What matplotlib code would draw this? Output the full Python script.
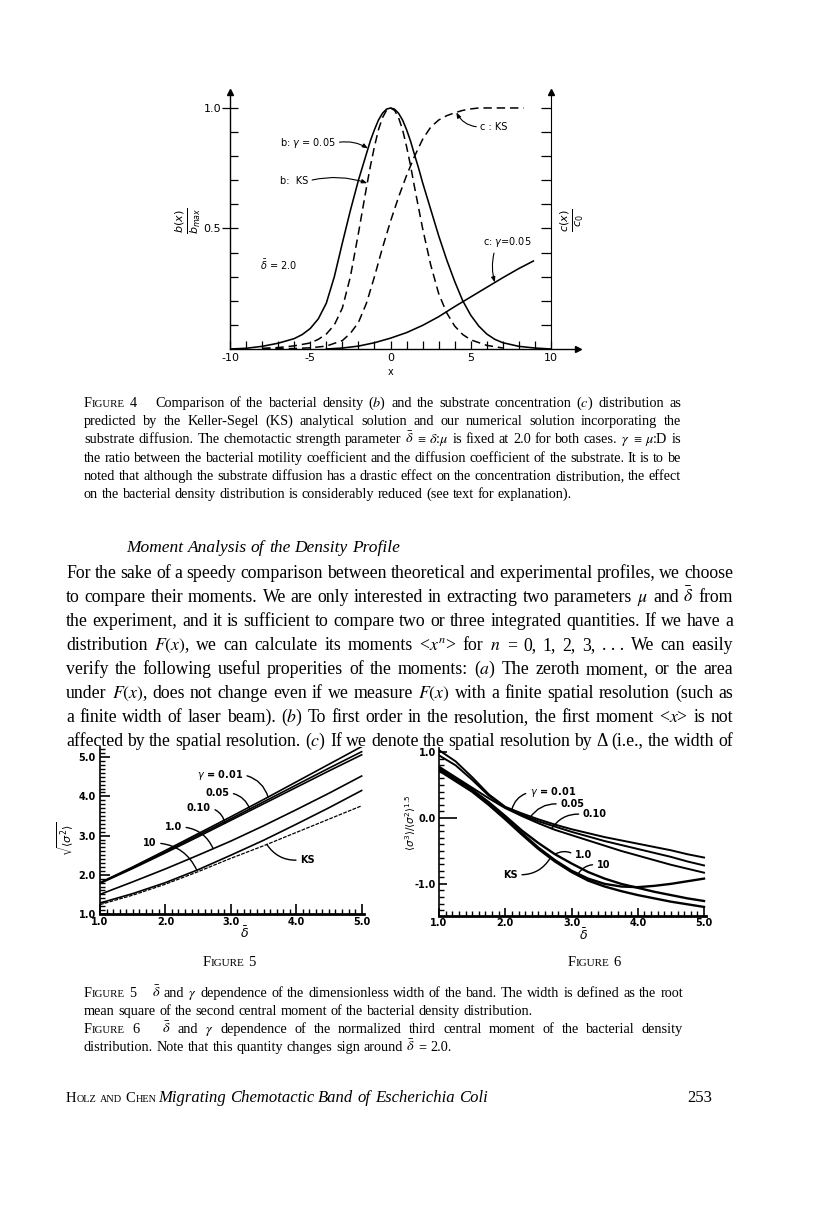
import numpy as np
import matplotlib
matplotlib.use('Agg')
import matplotlib.pyplot as plt
from matplotlib.text import Text

W, H = 816, 1221
SERIF = 'Liberation Serif'
SANS = 'DejaVu Sans'

# ---------------- Figure 4 data ----------------
x_bg = [-10, -9, -8, -7, -6, -5.5, -5, -4.5, -4, -3.5, -3, -2.5, -2, -1.75, -1.5, -1.25, -1, -0.75, -0.5, -0.25, 0,
        0.25, 0.5, 0.75, 1, 1.25, 1.5, 1.75, 2, 2.5, 3, 3.5, 4, 4.5, 5, 5.5, 6, 6.5, 7, 8, 9, 10]
b_gamma = [0.0, 0.003, 0.011, 0.024, 0.043, 0.06, 0.085, 0.125, 0.19, 0.3, 0.44, 0.575, 0.7, 0.755, 0.81, 0.865,
           0.91, 0.95, 0.978, 0.995, 1.0,
           0.995, 0.978, 0.95, 0.91, 0.862, 0.805, 0.75, 0.69, 0.58, 0.47, 0.37, 0.28, 0.2, 0.14, 0.095, 0.062,
           0.04, 0.026, 0.011, 0.004, 0.0]
x_bks = [-8, -7, -6, -5, -4.5, -4, -3.5, -3, -2.5, -2, -1.75, -1.5, -1.25, -1, -0.75, -0.5, -0.25, 0,
         0.25, 0.5, 0.75, 1, 1.25, 1.5, 1.75, 2, 2.5, 3, 3.5, 4, 4.5, 5, 6, 7]
b_ks = [0.003, 0.006, 0.013, 0.025, 0.04, 0.062, 0.1, 0.17, 0.3, 0.48, 0.575, 0.67, 0.76, 0.84, 0.91, 0.96, 0.99, 1.0,
        0.99, 0.96, 0.91, 0.84, 0.76, 0.67, 0.585, 0.5, 0.35, 0.23, 0.15, 0.095, 0.06, 0.038, 0.015, 0.004]
x_cks = [-8, -6, -5, -4, -3, -2.5, -2, -1.5, -1, -0.5, 0, 0.5, 1, 1.5, 2, 2.5, 3, 3.5, 4, 4.5, 5, 5.5, 6, 7, 8.3]
c_ks = [0.0, 0.002, 0.005, 0.012, 0.035, 0.065, 0.11, 0.19, 0.3, 0.42, 0.53, 0.63, 0.72, 0.8, 0.87,
        0.92, 0.95, 0.968, 0.98, 0.99, 0.996, 1.0, 1.0, 1.0, 1.0]
x_cg = [-4, -3, -2, -1, 0, 1, 2, 3, 4, 5, 6, 7, 8, 8.9]
c_gamma = [0.0, 0.004, 0.012, 0.026, 0.045, 0.068, 0.098, 0.134, 0.176, 0.216, 0.256, 0.296, 0.334, 0.365]

# ---------------- Figure 5 data ----------------
d5 = [1.0, 1.5, 2.0, 2.5, 3.0, 3.5, 4.0, 4.5, 5.0]
w_001 = [1.80, 2.20, 2.62, 3.05, 3.48, 3.92, 4.37, 4.82, 5.27]
w_005 = [1.79, 2.18, 2.59, 3.01, 3.43, 3.86, 4.29, 4.72, 5.14]
w_010 = [1.78, 2.16, 2.56, 2.97, 3.39, 3.81, 4.23, 4.65, 5.06]
w_1 = [1.50, 1.82, 2.15, 2.50, 2.86, 3.25, 3.66, 4.08, 4.52]
w_10 = [1.28, 1.52, 1.80, 2.13, 2.50, 2.88, 3.29, 3.71, 4.15]
w_ks = [1.24, 1.48, 1.76, 2.08, 2.42, 2.74, 3.08, 3.42, 3.76]

# ---------------- Figure 6 data ----------------
d6 = [1.0, 1.25, 1.5, 1.75, 2.0, 2.25, 2.5, 2.75, 3.0, 3.25, 3.5, 3.75, 4.0, 4.25, 4.5, 4.75, 5.0]
s_001 = [1.03, 0.86, 0.62, 0.36, 0.17, 0.07, -0.02, -0.10, -0.17, -0.23, -0.29, -0.34, -0.39, -0.44, -0.49, -0.55, -0.60]
s_005 = [0.95, 0.80, 0.58, 0.34, 0.16, 0.05, -0.05, -0.13, -0.21, -0.28, -0.35, -0.41, -0.47, -0.53, -0.59, -0.66, -0.72]
s_010 = [0.78, 0.62, 0.46, 0.30, 0.15, 0.03, -0.08, -0.18, -0.26, -0.34, -0.42, -0.50, -0.57, -0.64, -0.71, -0.77, -0.83]
s_1 = [0.76, 0.60, 0.43, 0.24, 0.03, -0.19, -0.38, -0.55, -0.69, -0.82, -0.92, -1.00, -1.06, -1.12, -1.17, -1.22, -1.26]
s_10 = [0.74, 0.58, 0.41, 0.21, 0.0, -0.23, -0.45, -0.64, -0.80, -0.92, -1.00, -1.04, -1.05, -1.03, -1.00, -0.96, -0.92]
s_ks = [0.72, 0.56, 0.40, 0.20, -0.02, -0.25, -0.47, -0.66, -0.82, -0.95, -1.04, -1.11, -1.17, -1.22, -1.27, -1.31, -1.35]

# ---------------- page text ----------------
cap4 = [
    "^Figure 4 ~ Comparison of the bacterial density ($b$) and the substrate concentration ($c$) distribution as",
    "predicted by the Keller-Segel (KS) analytical solution and our numerical solution incorporating the",
    "substrate diffusion. The chemotactic strength parameter $\\bar{\\delta}$ \u2261 $\\delta$:$\\mu$ is fixed at 2.0 for both cases. $\\gamma$ \u2261 $\\mu$:D is",
    "the ratio between the bacterial motility coefficient and the diffusion coefficient of the substrate. It is to be",
    "noted that although the substrate diffusion has a drastic effect on the concentration distribution, the effect",
    "on the bacterial density distribution is considerably reduced (see text for explanation).",
]
heading = "Moment Analysis of the Density Profile"
body = [
    "For the sake of a speedy comparison between theoretical and experimental profiles, we choose",
    "to compare their moments. We are only interested in extracting two parameters $\\mu$ and $\\bar{\\delta}$ from",
    "the experiment, and it is sufficient to compare two or three integrated quantities. If we have a",
    "distribution $F(x)$, we can calculate its moments <$x^n$> for $n$ = 0, 1, 2, 3, .\u00a0.\u00a0. We can easily",
    "verify the following useful properities of the moments: ($a$) The zeroth moment, or the area",
    "under $F(x)$, does not change even if we measure $F(x)$ with a finite spatial resolution (such as",
    "a finite width of laser beam). ($b$) To first order in the resolution, the first moment <$x$> is not",
    "affected by the spatial resolution. ($c$) If we denote the spatial resolution by \u0394 (i.e., the width of",
]
cap56 = [
    "^Figure 5 ~ $\\bar{\\delta}$ and $\\gamma$ dependence of the dimensionless width of the band. The width is defined as the root",
    "mean square of the second central moment of the bacterial density distribution.",
    "^Figure 6 ~ $\\bar{\\delta}$ and $\\gamma$ dependence of the normalized third central moment of the bacterial density",
    "distribution. Note that this quantity changes sign around $\\bar{\\delta}$ = 2.0.",
]

fig = plt.figure(figsize=(W / 100, H / 100), dpi=100)
fig.patch.set_facecolor('white')
R = fig.canvas.get_renderer()


def axes_px(l, t, r, b):
    return fig.add_axes([l / W, 1 - b / H, (r - l) / W, (b - t) / H])


def word_parts(word, style, sc):
    # '^' = small capitals, '_' = italic, '~' = extra space
    if word == '~':
        return None
    if word.startswith('_'):
        style, word = 'italic', word[1:]
    if word.startswith('^'):
        parts = []
        for ch in word[1:]:
            f = 1.0 if (ch.isupper() or ch.isdigit()) else sc
            if parts and parts[-1][1] == f:
                parts[-1][0] += ch.upper()
            else:
                parts.append([ch.upper(), f, style])
        return parts
    return [[word, 1.0, style]]


def measure(s, size, style):
    t = Text(0, 0, s, fontsize=size, family=SERIF, style=style, math_fontfamily='stix')
    t.set_figure(fig)
    return t.get_window_extent(renderer=R).width


def word_width(parts, size):
    if parts is None:
        return size * 100 / 72 * 0.55
    return sum(measure(p, size * f, st) for p, f, st in parts)


def fit_size(lines, x0, x1, size, style='normal', sc=0.76):
    # one font size for a whole paragraph so that every line fits its measure
    best = size
    for s in lines:
        items = [word_parts(w, style, sc) for w in s.split(' ')]
        total = sum(word_width(p, size) for p in items)
        need = total + (len(items) - 1) * 0.2 * size * 100 / 72
        best = min(best, size * (x1 - x0) / need)
    return best


def text_line(y, x0, x1, s, size, just=True, style='normal', align='left', sc=0.76):
    items = [word_parts(w, style, sc) for w in s.split(' ')]
    widths = [word_width(p, size) for p in items]
    total = sum(widths)
    em = size * 100 / 72
    gap = (x1 - x0 - total) / (len(items) - 1) if (just and len(items) > 1) else 0.25 * em
    full = total + gap * (len(items) - 1)
    x = x0 if align == 'left' else (x0 - full / 2 if align == 'center' else x0 - full)
    for parts, w in zip(items, widths):
        if parts is not None:
            xx = x
            for p, f, st in parts:
                fig.text(xx / W, 1 - y / H, p, fontsize=size * f, family=SERIF, style=st,
                         math_fontfamily='stix')
                xx += measure(p, size * f, st)
        x += w + gap


# ---------------- Figure 4 ----------------
ax = axes_px(230, 92.3, 578, 349)
ax.set_xlim(-10, 11.68)
ax.set_ylim(0, 1.065)
ax.patch.set_visible(False)
ax.spines['top'].set_visible(False)
ax.spines['right'].set_visible(False)
for s in ['left', 'bottom']:
    ax.spines[s].set_linewidth(1.0)
dash = (0, (5.5, 3.2))
ax.plot(x_bg, b_gamma, color='k', lw=1.15)
ax.plot(x_bks, b_ks, color='k', lw=1.1, ls=dash)
ax.plot(x_cks, c_ks, color='k', lw=1.1, ls=dash)
ax.plot(x_cg, c_gamma, color='k', lw=1.15)
ax.set_xticks([-10, -5, 0, 5, 10])
ax.set_xticklabels(['-10', '-5', '0', '5', '10'], family=SANS)
ax.set_xticks(np.arange(-10, 11), minor=True)
ax.tick_params(axis='x', which='both', direction='in', length=6, width=0.9, labelsize=8, pad=3)
ax.set_yticks([0.5, 1.0])
ax.set_yticklabels(['0.5', '1.0'], family=SANS)
ax.set_yticks(np.arange(0.1, 1.0, 0.1), minor=True)
ax.tick_params(axis='y', which='major', direction='inout', length=11, width=0.9, labelsize=8, pad=1)
ax.tick_params(axis='y', which='minor', direction='in', length=6, width=0.9)
ax.set_ylabel(r'$\frac{b(x)}{b_{max}}$', fontsize=11.5, labelpad=0, math_fontfamily='dejavusans')
ax.set_xlabel('x', fontsize=7, family=SANS)
ax.xaxis.set_label_coords(0, -0.07, transform=ax.get_xaxis_transform())
ax.plot(0, 1, '^k', ms=4, transform=ax.transAxes, clip_on=False)
ax.plot(1, 0, '>k', ms=4, transform=ax.transAxes, clip_on=False)

ax2 = ax.twinx()
ax2.set_ylim(0, 1.065)
for s in ['top', 'left', 'bottom']:
    ax2.spines[s].set_visible(False)
ax2.spines['right'].set_position(('data', 10))
ax2.set_yticks(np.arange(0.1, 1.01, 0.1))
ax2.tick_params(axis='y', direction='in', length=7, width=0.9, labelright=False)
ax2.set_ylabel(r'$\frac{c(x)}{c_0}$', fontsize=11.5, labelpad=5, math_fontfamily='dejavusans')
ax.plot(10, 1, '^k', ms=4, transform=ax.get_xaxis_transform(), clip_on=False)

arr4 = dict(arrowstyle='-|>,head_length=0.45,head_width=0.17', color='k', lw=0.8,
            shrinkA=1, shrinkB=0)
lab = dict(fontsize=7, family=SANS, va='center', math_fontfamily='dejavusans')
ax.annotate('b: $\\gamma$ = 0.05', xy=(-1.4, np.interp(-1.4, x_bg, b_gamma)), xytext=(-6.9, 0.855),
            ha='left', arrowprops=dict(arr4, connectionstyle='arc3,rad=-0.2', relpos=(1, 0.5)), **lab)
ax.annotate('b:  KS', xy=(-1.45, np.interp(-1.45, x_bks, b_ks)), xytext=(-6.9, 0.697),
            ha='left', arrowprops=dict(arr4, connectionstyle='arc3,rad=-0.15', relpos=(1, 0.5)), **lab)
ax.annotate('c : KS', xy=(4.1, np.interp(4.1, x_cks, c_ks)), xytext=(5.6, 0.921),
            ha='left', arrowprops=dict(arr4, connectionstyle='arc3,rad=-0.3', relpos=(0, 0.5)), **lab)
ax.annotate('c: $\\gamma$=0.05', xy=(6.5, np.interp(6.5, x_cg, c_gamma)), xytext=(5.76, 0.444),
            ha='left', arrowprops=dict(arr4, connectionstyle='arc3,rad=0.15', relpos=(0.25, 0)), **lab)
ax.text(-8.13, 0.349, r'$\bar{\delta}$ = 2.0', **lab)

# ---------------- Figure 5 ----------------
bold = dict(fontsize=7, fontweight='bold', family=SANS)
ax5 = axes_px(100, 747.4, 363.6, 914)
ax5.set_xlim(1, 5.03)
ax5.set_ylim(1, 5.25)
ax5.patch.set_visible(False)
ax5.spines['top'].set_visible(False)
ax5.spines['right'].set_visible(False)
ax5.spines['bottom'].set_linewidth(2.0)
ax5.spines['left'].set_linewidth(1.2)
for w in [w_001, w_005, w_010, w_1, w_10]:
    ax5.plot(d5, w, color='k', lw=1.2)
ax5.plot(d5, w_ks, color='k', lw=0.9, ls=(0, (3, 1)))
ax5.set_xticks([1, 2, 3, 4, 5])
ax5.set_xticklabels(['1.0', '2.0', '3.0', '4.0', '5.0'], **bold)
ax5.set_xticks(np.arange(1, 5.01, 0.1), minor=True)
ax5.set_yticks([1, 2, 3, 4, 5])
ax5.set_yticklabels(['1.0', '2.0', '3.0', '4.0', '5.0'], **bold)
ax5.set_yticks(np.arange(1, 5.21, 0.1), minor=True)
ax5.tick_params(which='major', direction='in', length=7, width=1.2, pad=2)
ax5.tick_params(axis='y', which='major', pad=3)
ax5.tick_params(which='minor', direction='in', length=3.5, width=1.0)
ax5.set_xlabel(r'$\bar{\delta}$', fontsize=9, math_fontfamily='dejavusans')
ax5.xaxis.set_label_coords(0.55, -0.07)
ax5.set_ylabel(r'$\sqrt{\langle\sigma^2\rangle}$', fontsize=8, math_fontfamily='dejavusans')
ax5.yaxis.set_label_coords(-0.095, 0.45)

arr5 = dict(arrowstyle='-', color='k', lw=1.0, shrinkA=1, shrinkB=0)
lab5 = dict(bold, va='center', math_fontfamily='dejavusans')
ax5.annotate('$\\gamma$ = 0.01', xy=(3.57, np.interp(3.57, d5, w_001)), xytext=(2.48, 4.55), ha='left',
             arrowprops=dict(arr5, connectionstyle='arc3,rad=-0.3', relpos=(1, 0.5)), **lab5)
ax5.annotate('0.05', xy=(3.29, np.interp(3.29, d5, w_005)), xytext=(2.61, 4.09), ha='left',
             arrowprops=dict(arr5, connectionstyle='arc3,rad=-0.3', relpos=(1, 0.5)), **lab5)
ax5.annotate('0.10', xy=(2.91, np.interp(2.91, d5, w_010)), xytext=(2.33, 3.70), ha='left',
             arrowprops=dict(arr5, connectionstyle='arc3,rad=-0.3', relpos=(1, 0.5)), **lab5)
ax5.annotate('1.0', xy=(2.73, np.interp(2.73, d5, w_1)), xytext=(1.99, 3.22), ha='left',
             arrowprops=dict(arr5, connectionstyle='arc3,rad=-0.3', relpos=(1, 0.5)), **lab5)
ax5.annotate('10', xy=(2.48, np.interp(2.48, d5, w_10)), xytext=(1.66, 2.81), ha='left',
             arrowprops=dict(arr5, connectionstyle='arc3,rad=-0.3', relpos=(1, 0.5)), **lab5)
ax5.annotate('KS', xy=(3.55, np.interp(3.55, d5, w_ks)), xytext=(4.06, 2.38), ha='left',
             arrowprops=dict(arr5, connectionstyle='arc3,rad=-0.3', relpos=(0, 0.5)), **lab5)

# ---------------- Figure 6 ----------------
ax6 = axes_px(439, 747.5, 706, 915.5)
ax6.set_xlim(1, 5.03)
ax6.set_ylim(-1.48, 1.07)
ax6.patch.set_visible(False)
ax6.spines['top'].set_visible(False)
ax6.spines['right'].set_visible(False)
ax6.spines['bottom'].set_linewidth(2.0)
ax6.spines['left'].set_linewidth(1.2)
for s in [s_001, s_005, s_010]:
    ax6.plot(d6, s, color='k', lw=1.4)
for s in [s_1, s_10, s_ks]:
    ax6.plot(d6, s, color='k', lw=1.7)
ax6.set_xticks([1, 2, 3, 4, 5])
ax6.set_xticklabels(['1.0', '2.0', '3.0', '4.0', '5.0'], **bold)
ax6.set_xticks(np.arange(1, 5.01, 0.1), minor=True)
ax6.set_yticks([-1, 0, 1])
ax6.set_yticklabels(['-1.0', '0.0', '1.0'], **bold)
ax6.set_yticks(np.arange(-1.4, 1.01, 0.1), minor=True)
ax6.tick_params(which='major', direction='in', length=6, width=1.2, pad=2)
ax6.tick_params(which='minor', direction='in', length=3.5, width=1.0)
ax6.yaxis.get_major_ticks()[1].tick1line.set_markersize(13)
ax6.set_xlabel(r'$\bar{\delta}$', fontsize=9, math_fontfamily='dejavusans')
ax6.xaxis.set_label_coords(0.54, -0.07)
ax6.set_ylabel(r'$\langle\sigma^3\rangle/\langle\sigma^2\rangle^{1.5}$', fontsize=7.5,
               fontweight='bold', math_fontfamily='dejavusans')
ax6.yaxis.set_label_coords(-0.079, 0.55)

ax6.annotate('$\\gamma$ = 0.01', xy=(2.1, np.interp(2.1, d6, s_001)), xytext=(2.37, 0.39), ha='left',
             arrowprops=dict(arr5, connectionstyle='arc3,rad=0.3', relpos=(0, 0.5)), **lab5)
ax6.annotate('0.05', xy=(2.37, np.interp(2.37, d6, s_005)), xytext=(2.83, 0.21), ha='left',
             arrowprops=dict(arr5, connectionstyle='arc3,rad=0.3', relpos=(0, 0.5)), **lab5)
ax6.annotate('0.10', xy=(2.7, np.interp(2.7, d6, s_010)), xytext=(3.17, 0.055), ha='left',
             arrowprops=dict(arr5, connectionstyle='arc3,rad=0.3', relpos=(0, 0.5)), **lab5)
ax6.annotate('1.0', xy=(2.75, np.interp(2.75, d6, s_1)), xytext=(3.05, -0.56), ha='left',
             arrowprops=dict(arr5, connectionstyle='arc3,rad=0.3', relpos=(0, 0.5)), **lab5)
ax6.annotate('10', xy=(3.1, np.interp(3.1, d6, s_10)), xytext=(3.38, -0.71), ha='left',
             arrowprops=dict(arr5, connectionstyle='arc3,rad=0.3', relpos=(0, 0.5)), **lab5)
ax6.annotate('KS', xy=(2.68, np.interp(2.68, d6, s_ks)), xytext=(1.97, -0.86), ha='left',
             arrowprops=dict(arr5, connectionstyle='arc3,rad=0.3', relpos=(1, 0.5)), **lab5)

# ---------------- page text ----------------
size4 = fit_size(cap4[:-1], 84, 681, 10.3)
for i, s in enumerate(cap4):
    text_line(407 + i * 18.2, 84, 681, s, size4, just=(i < len(cap4) - 1))

text_line(552, 126, 0, heading, 12.5, just=False, style='italic')
size_b = fit_size(body, 66, 733, 12.8)
for i, s in enumerate(body):
    text_line(577.5 + i * 24.1, 66, 733, s, size_b, just=True)

text_line(966, 229, 0, "^Figure 5", 10.5, just=False, align='center')
text_line(966, 594, 0, "^Figure 6", 10.5, just=False, align='center')

size56 = fit_size([cap56[0], cap56[2]], 84, 683, 10.3)
for i, s in enumerate(cap56):
    text_line(997 + i * 18, 84, 683, s, size56, just=(i % 2 == 0))

text_line(1102, 66, 0, "^Holz ^and ^Chen", 10.5, just=False, sc=0.7)
text_line(1102, 158, 0, "_Migrating _Chemotactic _Band _of _Escherichia _Coli", 12, just=False)
text_line(1102, 712, 0, "253", 12, just=False, align='right')

fig.savefig('out.png', dpi=100, facecolor='white')
